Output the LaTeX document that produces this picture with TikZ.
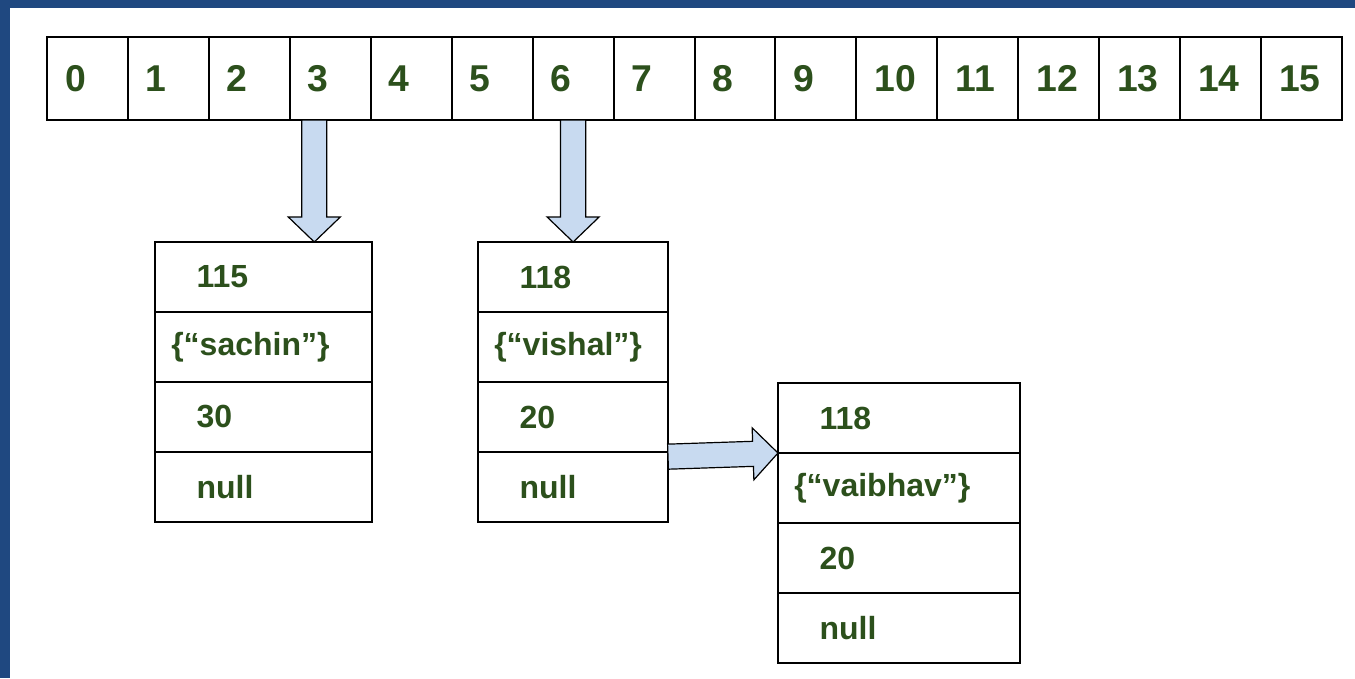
\documentclass[tikz,border=0pt]{standalone}
\usepackage{fontspec}
\setmainfont{Liberation Sans}
\usetikzlibrary{positioning,calc}
\definecolor{frameblue}{RGB}{31,72,128}
\definecolor{txtgreen}{RGB}{44,80,28}
\definecolor{arrowblue}{RGB}{200,218,240}

% fat arrow from #1 to the tip #2
\newcommand{\blockarrow}[2]{%
  \coordinate (hb) at ($(#2)!18.75pt!(#1)$);
  \draw[block arrow] ($(#1)!9.4pt!90:(#2)$) -- ($(hb)!9.4pt!90:(#2)$)
    -- ($(hb)!19.5pt!90:(#2)$) -- (#2) -- ($(hb)!19.5pt!-90:(#2)$)
    -- ($(hb)!9.4pt!-90:(#2)$) -- ($(#1)!9.4pt!-90:(#2)$) -- cycle;}

\begin{document}
\begin{tikzpicture}[x=0.75pt,y=-0.75pt]
        \tikzset{
        cell/.style={draw,line width=1.5pt,outer sep=0pt,minimum width=60.7pt,minimum height=62.25pt,
          inner xsep=13.5pt,text width=33.7pt,align=left,text=txtgreen,font=\fontsize{28}{30}\selectfont\bfseries},
        field/.style={draw,line width=1.5pt,outer sep=0pt,minimum height=52.5pt},
        txt/.style={inner sep=0pt,anchor=west,text=txtgreen,font=\fontsize{24}{28}\selectfont\bfseries},
        num/.style={label={[txt,xshift=31pt]west:#1}},
        str/.style={label={[txt,xshift=12pt]west:#1}},
        block arrow/.style={draw=black,line width=0.9pt,fill=arrowblue,line join=miter}
        }
        \useasboundingbox (0,0) rectangle (1355,678);
        \fill[white] (0,0) rectangle (1355,678);
        \fill[frameblue] (0,0) rectangle (10,678);
        \fill[frameblue] (0,0) rectangle (1355,8);

        % buckets
        \foreach \i in {0,...,15}
          \node[cell] (a\i) at ({87.47+80.94*\i},78.5) {\i};

        % entry at 3
        \node[field,minimum width=162.75pt,num=115] (s1) at (263.5,277) {};
        \node[field,minimum width=162.75pt,below=0pt of s1,str={\{“sachin”\}}] (s2) {};
        \node[field,minimum width=162.75pt,below=0pt of s2,num=30] (s3) {};
        \node[field,minimum width=162.75pt,below=0pt of s3,num=null] (s4) {};

        % entry at 6
        \node[field,minimum width=142.5pt,num=118] (v1) at (573,277) {};
        \node[field,minimum width=142.5pt,below=0pt of v1,str={\{“vishal”\}}] (v2) {};
        \node[field,minimum width=142.5pt,below=0pt of v2,num=20] (v3) {};
        \node[field,minimum width=142.5pt,below=0pt of v3,num=null] (v4) {};

        % next entry
        \node[field,minimum width=181.5pt,num=118] (w1) at (899,418) {};
        \node[field,minimum width=181.5pt,below=0pt of w1,str={\{“vaibhav”\}}] (w2) {};
        \node[field,minimum width=181.5pt,below=0pt of w2,num=20] (w3) {};
        \node[field,minimum width=181.5pt,below=0pt of w3,num=null] (w4) {};

        \coordinate (p3) at ([xshift=-12pt]a3.south);
        \coordinate (t3) at (p3 |- s1.north);
        \blockarrow{p3}{t3}
        \coordinate (t6) at (a6.south |- v1.north);
        \blockarrow{a6.south}{t6}
        \coordinate (pv) at ([yshift=-3.5pt]v3.south east);
        \blockarrow{pv}{w1.south west}
    \end{tikzpicture}
\end{document}
